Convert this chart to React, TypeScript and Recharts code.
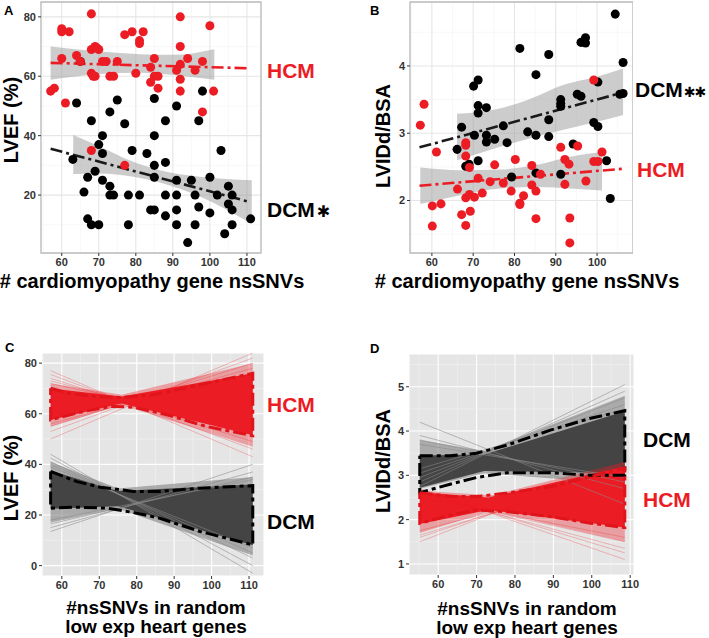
import React from 'react';
import {
  ComposedChart,
  Scatter,
  Line,
  Area,
  XAxis,
  YAxis,
  CartesianGrid,
  ReferenceArea,
} from 'recharts';

const RED = '#ec1c24';
const FONT = '"Liberation Sans", Arial, Helvetica, sans-serif';

// ---------- Panel A: LVEF vs cardiomyopathy nsSNVs ----------
const hcmPointsA: [number, number][] = [
  [57, 55], [58, 56], [60, 76], [60, 75], [62, 75], [60, 66], [61, 51], [64, 67], [65, 65],
  [68, 81], [68, 69], [69, 70], [70, 69], [69.5, 69.5], [68, 61], [68.5, 60], [69, 60],
  [72, 65], [71, 65], [73, 60], [74, 60], [75, 65], [77, 74], [79, 75], [82, 75], [81, 72],
  [81, 71], [80, 61], [84, 63], [84, 58], [85, 66], [85, 60], [86, 60], [86, 56], [68, 35],
  [77, 30], [92, 80], [92, 55], [91, 62], [92, 70], [92, 59], [92, 64], [94, 66], [96, 62],
  [98, 65], [98, 48], [100, 77], [101, 55],
];
const dcmPointsA: [number, number][] = [
  [65, 65], [64, 51], [63, 32], [66, 21], [67, 26], [67, 12], [68, 10], [70, 10], [68, 45],
  [69, 28], [70, 37], [71, 40], [71, 34], [71, 25], [73, 48], [73, 23], [73, 20], [74, 20],
  [75, 52], [77, 44], [78, 10], [78, 20], [79, 35], [81, 20], [83, 34], [84, 15], [85, 15],
  [85, 52.5], [85, 40], [85, 30], [85, 26], [88, 45], [88, 31], [88, 20], [88, 13], [91, 50],
  [91, 25], [91, 20], [91, 15], [91, 10], [94, 4], [95, 25], [96, 20], [96, 10], [97, 45],
  [97, 16], [98, 55], [100, 26], [100, 14], [102, 20], [103, 35], [104, 7], [105, 23],
  [105, 17], [106, 20], [106, 15], [106, 10], [111, 12],
];
// [x, lower, upper]
const hcmRibbonA: [number, number, number][] = [
  [57, 58.8, 70], [70.3, 60.8, 68.3], [81.1, 61.2, 67.4], [90.1, 60.4, 67.2], [101.2, 58.8, 69.1],
];
const dcmRibbonA: [number, number, number][] = [
  [63.1, 27.1, 40.2], [70.3, 27.3, 36.3], [79.3, 26.2, 31.2], [86.5, 24.2, 28.4],
  [97.3, 19.5, 26.2], [111.3, 10.3, 25],
];
const hcmFitA: [number, number][] = [[57, 64.5], [110.5, 62.7]];
const dcmFitA: [number, number][] = [[57, 35.6], [111, 17.6]];
const xTicksA = [60, 70, 80, 90, 100, 110];
const yTicksA = [20, 40, 60, 80];
const xMinorA = [55, 65, 75, 85, 95, 105];
const yMinorA = [10, 30, 50, 70];

// ---------- Panel B: LVIDd/BSA vs cardiomyopathy nsSNVs ----------
const dcmPointsB: [number, number][] = [
  [66.1, 2.76], [67.2, 3.09], [68.2, 2.51], [69, 2.54], [70.1, 3.7], [71.2, 3.79], [71.2, 3.41],
  [71.2, 3.3], [71.2, 2.59], [70.3, 2.97], [73.2, 3.38], [73.2, 2.97], [73.2, 2.87], [75.2, 2.91],
  [77.3, 3.11], [78.2, 2.86], [79.3, 2.35], [81.3, 4.26], [83.2, 3.02], [85.2, 3.87], [85.2, 2.97],
  [85.2, 2.41], [88.3, 4.17], [88.3, 3.2], [88.3, 2.95], [91.2, 3.5], [91.2, 3.44], [91.2, 3.4],
  [91.2, 2.39], [94.2, 2.84], [95.2, 3.58], [96.1, 3.55], [96.1, 4.35], [97.2, 4.42], [97.2, 4.34],
  [99.2, 3.16], [100.2, 3.1], [100.2, 3.76], [102.3, 2.59], [103.2, 2.03], [104.4, 4.77],
  [106.3, 4.05], [105.5, 3.58], [106.3, 3.59],
];
const hcmPointsB: [number, number][] = [
  [57.2, 3.12], [58.1, 3.43], [61.1, 2.72], [60.1, 1.92], [60.1, 1.62], [62.2, 1.95], [66.2, 2.17],
  [67.2, 1.79], [68.2, 2.86], [68.2, 2.82], [68.2, 2.66], [68.2, 2.04], [68.2, 1.63], [69.1, 2.49],
  [69.1, 2.09], [69.3, 1.84], [70.3, 2.05], [71.2, 2.33], [72.2, 2.11], [74.1, 2.28], [75.2, 2.53],
  [77.3, 2.26], [79.2, 2.14], [80.2, 2.61], [81.3, 1.96], [81.3, 1.94], [82.2, 2.07], [84.2, 2.52],
  [84.2, 2.23], [85.2, 2.14], [85.2, 1.73], [86.3, 2.39], [91.2, 2.79], [92.2, 2.61], [92.2, 2.24],
  [93.2, 2.54], [93.4, 1.74], [93.4, 1.37], [95.3, 2.81], [97.3, 2.29], [99.2, 3.79], [99.2, 2.58],
  [100.2, 2.58], [101.2, 2.72],
];
const dcmRibbonB: [number, number, number][] = [
  [66.1, 2.6, 3.29], [75, 2.77, 3.35], [83, 2.91, 3.49], [91.9, 3.05, 3.72], [100, 3.17, 3.84],
  [106.3, 3.27, 3.96],
];
const hcmRibbonB: [number, number, number][] = [
  [57.2, 1.95, 2.49], [66.9, 2.08, 2.45], [76.6, 2.18, 2.46], [85.5, 2.2, 2.53], [93.5, 2.18, 2.65],
  [101.2, 2.15, 2.72],
];
const dcmFitB: [number, number][] = [[57, 2.79], [106, 3.6]];
const hcmFitB: [number, number][] = [[57, 2.22], [106, 2.47]];
const xTicksB = [60, 70, 80, 90, 100];
const yTicksB = [2, 3, 4];
const xMinorB = [55, 65, 75, 85, 95, 105];
const yMinorB = [1.5, 2.5, 3.5, 4.5];

// ---------- Panel C: LVEF, random low-expression heart genes ----------
const spanC: [number, number] = [57, 111];
// [value at left end, value at right end]
const hcmLinesC: [number, number][] = [
  [77, 43], [75.5, 46], [74, 49], [73, 52], [72, 54], [50, 84], [53, 82], [55, 80], [56, 78],
];
const dcmLinesC: [number, number][] = [
  [44, -3], [42.5, 0], [41, 3], [40, 5], [39, 7], [13.5, 40], [15, 37], [16.5, 35], [18, 34],
];
const hcmOuterC: [number, number, number][] = [[57, 55, 72], [76, 63.5, 67.5], [111, 47, 80]];
const hcmCoreC: [number, number, number][] = [[57, 57.5, 70], [76, 64, 66.8], [111, 51.5, 76]];
const dcmOuterC: [number, number, number][] = [[57, 17, 41], [75, 22.5, 30.5], [111, 4, 35]];
const dcmCoreC: [number, number, number][] = [[57, 22.5, 37.5], [75, 23.5, 29.5], [111, 8, 32]];
const hcmUpperC: [number, number][] = [
  [57, 70.1], [61.8, 68.1], [69.3, 66.8], [76, 66.4], [84.4, 67.5], [96.9, 71.4], [111, 76],
];
const hcmLowerC: [number, number][] = [
  [57, 57.6], [65.8, 60.9], [72.9, 62.9], [79.1, 62.6], [88, 59.6], [98.6, 55], [111, 51.3],
];
const dcmUpperC: [number, number][] = [
  [57, 37.2], [64, 33.2], [70.2, 31], [79.1, 29.3], [86.2, 29.3], [96.9, 30.6], [111, 31.6],
];
const dcmLowerC: [number, number][] = [
  [57, 22.7], [63.1, 23.1], [72, 22.7], [79.1, 21], [86.2, 18.7], [96.9, 13.5], [111, 8.2],
];
const xTicksC = [60, 70, 80, 90, 100, 110];
const yTicksC = [0, 20, 40, 60, 80];
const xMinorC = [55, 65, 75, 85, 95, 105];
const yMinorC = [10, 30, 50, 70];

// ---------- Panel D: LVIDd/BSA, random low-expression heart genes ----------
const spanD: [number, number] = [55.2, 108.6];
const dcmLinesD: [number, number][] = [
  [2.75, 5.05], [2.85, 4.9], [2.95, 4.75], [3.05, 4.6], [3.15, 4.5], [4.2, 2.35], [3.9, 2.7],
  [3.8, 2.85], [3.7, 2.95],
];
const hcmLinesD: [number, number][] = [
  [1.5, 3.3], [1.6, 3.15], [1.65, 3.05], [1.75, 2.95], [2.7, 1.1], [2.65, 1.25], [2.6, 1.35],
  [2.55, 1.5], [2.5, 1.6],
];
const dcmOuterD: [number, number, number][] = [[55.2, 2.7, 3.8], [72, 3.05, 3.55], [108.6, 2.8, 4.8]];
const dcmCoreD: [number, number, number][] = [[55.2, 2.72, 3.45], [72, 3.1, 3.47], [108.6, 3.05, 4.45]];
const hcmOuterD: [number, number, number][] = [[55.2, 1.7, 2.65], [74, 2.2, 2.55], [108.6, 1.5, 3.3]];
const hcmCoreD: [number, number, number][] = [[55.2, 1.9, 2.62], [73, 2.22, 2.5], [108.6, 1.82, 3.2]];
const dcmUpperD: [number, number][] = [
  [55.2, 3.44], [63.1, 3.44], [70, 3.5], [77.9, 3.68], [89.2, 4.02], [99.7, 4.29], [108.6, 4.46],
];
const dcmLowerD: [number, number][] = [
  [55.2, 2.61], [63.1, 2.8], [70, 2.95], [77.9, 3.06], [89.2, 3.06], [99.7, 3.0], [108.6, 3.0],
];
const hcmUpperD: [number, number][] = [
  [55.2, 2.61], [63.1, 2.52], [70, 2.52], [77.9, 2.6], [89.2, 2.74], [99.7, 2.97], [108.6, 3.17],
];
const hcmLowerD: [number, number][] = [
  [55.2, 1.92], [63.1, 2.1], [70, 2.22], [77.9, 2.18], [89.2, 2.07], [99.7, 1.92], [108.6, 1.82],
];
const xTicksD = [60, 70, 80, 90, 100, 110];
const yTicksD = [1, 2, 3, 4, 5];
const xMinorD = [55, 65, 75, 85, 95, 105];
const yMinorD = [1.5, 2.5, 3.5, 4.5, 5.5];

// helpers
const pts = (p: [number, number][]) => p.map(([x, y]) => ({ x, y }));
const band = (rows: [number, number, number][]) => rows.map(([x, lo, hi]) => ({ x, r: [lo, hi] }));
const seg = (span: [number, number], [a, b]: [number, number]) => [
  { x: span[0], y: a },
  { x: span[1], y: b },
];
// closed outline: upper curve left->right, lower curve right->left
const ring = (upper: [number, number][], lower: [number, number][]) =>
  pts([...upper, ...lower.slice().reverse(), upper[0]]);

const tick = { fill: '#333333', fontSize: 11, fontWeight: 700, fontFamily: FONT };

// major grid on the ticks, a thinner minor grid between them (both under the data)
const grids = (xMinor: number[], yMinor: number[], major: string, minor: string, bg?: string) => [
  <CartesianGrid key="g1" stroke={major} strokeWidth={1.1} fill={bg} />,
  <CartesianGrid
    key="g2"
    stroke={minor}
    strokeWidth={0.55}
    verticalValues={xMinor}
    horizontalValues={yMinor}
  />,
];

const axes = (
  xd: [number, number],
  yd: [number, number],
  xt: number[],
  yt: number[],
  yw: number,
  xh: number,
) => [
  <XAxis
    key="x"
    type="number"
    dataKey="x"
    domain={xd}
    ticks={xt}
    allowDataOverflow
    interval={0}
    axisLine={false}
    tickLine={{ stroke: '#333' }}
    tickSize={3}
    tick={tick}
    height={xh}
  />,
  <YAxis
    key="y"
    type="number"
    dataKey="y"
    domain={yd}
    ticks={yt}
    allowDataOverflow
    interval={0}
    axisLine={false}
    tickLine={{ stroke: '#333' }}
    tickSize={3}
    tick={tick}
    width={yw}
  />,
];

const ribbon = (rows: [number, number, number][], key: string) => (
  <Area
    key={key}
    data={band(rows)}
    dataKey="r"
    type="monotone"
    fill="#999999"
    fillOpacity={0.5}
    stroke="none"
    isAnimationActive={false}
  />
);

const fit = (p: [number, number][], color: string, key: string) => (
  <Line
    key={key}
    data={pts(p)}
    dataKey="y"
    type="linear"
    stroke={color}
    strokeWidth={2.6}
    strokeDasharray="12 4 3 4"
    dot={false}
    activeDot={false}
    isAnimationActive={false}
  />
);

const thinLines = (span: [number, number], list: [number, number][], color: string, op: number, key: string) =>
  list.map((l, i) => (
    <Line
      key={key + i}
      data={seg(span, l)}
      dataKey="y"
      type="linear"
      stroke={color}
      strokeOpacity={op}
      strokeWidth={0.8}
      dot={false}
      activeDot={false}
      isAnimationActive={false}
    />
  ));

const fillBand = (rows: [number, number, number][], color: string, op: number, key: string) => (
  <Area
    key={key}
    data={band(rows)}
    dataKey="r"
    type="linear"
    fill={color}
    fillOpacity={op}
    stroke="none"
    isAnimationActive={false}
  />
);

const envelope = (upper: [number, number][], lower: [number, number][], color: string, key: string) => (
  <Line
    key={key}
    data={ring(upper, lower)}
    dataKey="y"
    type="linear"
    stroke={color}
    strokeWidth={3}
    strokeDasharray="13 4 4 4"
    dot={false}
    activeDot={false}
    isAnimationActive={false}
  />
);

const PanelA = () => (
  <ComposedChart width={265} height={300} margin={{ top: 2, right: 4, bottom: 0, left: 0 }}>
    {grids(xMinorA, yMinorA, '#e6e6e6', '#f2f2f2')}
    {axes([54.4, 113.8], [0.5, 85], xTicksA, yTicksA, 41, 47)}
    <Scatter data={pts(dcmPointsA)} fill="#000000" isAnimationActive={false} />
    <Scatter data={pts(hcmPointsA)} fill={RED} isAnimationActive={false} />
    {ribbon(hcmRibbonA, 'rh')}
    {ribbon(dcmRibbonA, 'rd')}
    {fit(hcmFitA, RED, 'fh')}
    {fit(dcmFitA, '#1a1a1a', 'fd')}
    <ReferenceArea x1={54.4} x2={113.8} y1={0.5} y2={85} fill="none" stroke="#bdbdbd" strokeWidth={1.3} ifOverflow="visible" />
  </ComposedChart>
);

const PanelB = () => (
  <ComposedChart width={283} height={300} margin={{ top: 2, right: 0, bottom: 0, left: 0 }}>
    {grids(xMinorB, yMinorB, '#e6e6e6', '#f2f2f2')}
    {axes([54.7, 108.7], [1.22, 4.95], xTicksB, yTicksB, 60, 47)}
    <Scatter data={pts(dcmPointsB)} fill="#000000" isAnimationActive={false} />
    <Scatter data={pts(hcmPointsB)} fill={RED} isAnimationActive={false} />
    {ribbon(dcmRibbonB, 'rd')}
    {ribbon(hcmRibbonB, 'rh')}
    {fit(dcmFitB, '#1a1a1a', 'fd')}
    {fit(hcmFitB, RED, 'fh')}
    <ReferenceArea x1={54.7} x2={108.7} y1={1.22} y2={4.95} fill="none" stroke="#bdbdbd" strokeWidth={1.3} ifOverflow="visible" />
  </ComposedChart>
);

const PanelC = () => (
  <ComposedChart width={275} height={260} margin={{ top: 3, right: 11, bottom: 0, left: 0 }}>
    {grids(xMinorC, yMinorC, '#ffffff', '#f4f4f4', '#e5e5e5')}
    {axes([54.7, 114], [-4.1, 84], xTicksC, yTicksC, 42, 34)}
    {thinLines(spanC, hcmLinesC, RED, 0.35, 'lh')}
    {fillBand(hcmOuterC, RED, 0.35, 'oh')}
    {fillBand(hcmCoreC, RED, 1, 'ch')}
    {thinLines(spanC, dcmLinesC, '#8a8a8a', 0.7, 'ld')}
    {fillBand(dcmOuterC, '#7a7a7a', 0.55, 'od')}
    {fillBand(dcmCoreC, '#444444', 1, 'cd')}
    {envelope(hcmUpperC, hcmLowerC, '#e0141b', 'eh')}
    {envelope(dcmUpperC, dcmLowerC, '#000000', 'ed')}
  </ComposedChart>
);

const PanelD = () => (
  <ComposedChart width={300} height={260} margin={{ top: 4, right: 16, bottom: 0, left: 0 }}>
    {grids(xMinorD, yMinorD, '#ffffff', '#f4f4f4', '#e5e5e5')}
    {axes([52.4, 111], [0.75, 5.74], xTicksD, yTicksD, 59, 35)}
    {thinLines(spanD, dcmLinesD, '#8a8a8a', 0.7, 'ld')}
    {fillBand(dcmOuterD, '#7a7a7a', 0.55, 'od')}
    {fillBand(dcmCoreD, '#444444', 1, 'cd')}
    {thinLines(spanD, hcmLinesD, RED, 0.35, 'lh')}
    {fillBand(hcmOuterD, RED, 0.35, 'oh')}
    {fillBand(hcmCoreD, RED, 1, 'ch')}
    {envelope(dcmUpperD, dcmLowerD, '#000000', 'ed')}
    {envelope(hcmUpperD, hcmLowerD, '#e0141b', 'eh')}
  </ComposedChart>
);

const title = { fontFamily: FONT, fontWeight: 700, fontSize: 20, fill: '#000' };
const title2 = { fontFamily: FONT, fontWeight: 700, fontSize: 19, fill: '#000' };
const tag = { fontFamily: FONT, fontWeight: 700, fontSize: 21 };
const letter = { fontFamily: FONT, fontWeight: 700, fontSize: 13, fill: '#000' };
const star = { fontFamily: '"DejaVu Sans", sans-serif', fontSize: 16 };
const starSmall = { fontFamily: '"DejaVu Sans", sans-serif', fontSize: 14, letterSpacing: -1 };

export default function App() {
  return (
    <div style={{ position: 'absolute', left: 0, top: 0, width: 709, height: 638, background: '#fff' }}>
      <div style={{ position: 'absolute', left: 0, top: 0 }}>
        <PanelA />
      </div>
      <div style={{ position: 'absolute', left: 350, top: 0 }}>
        <PanelB />
      </div>
      <div style={{ position: 'absolute', left: 0, top: 350 }}>
        <PanelC />
      </div>
      <div style={{ position: 'absolute', left: 350, top: 350 }}>
        <PanelD />
      </div>
      <svg width={709} height={638} style={{ position: 'absolute', left: 0, top: 0, pointerEvents: 'none' }}>
        <text x={4} y={15} style={letter}>A</text>
        <text x={370} y={15} style={letter}>B</text>
        <text x={5} y={352} style={letter}>C</text>
        <text x={370} y={353} style={letter}>D</text>

        <text transform="translate(18,120) rotate(-90)" textAnchor="middle" style={title}>LVEF (%)</text>
        <text transform="translate(390,136) rotate(-90)" textAnchor="middle" style={title}>LVIDd/BSA</text>
        <text transform="translate(18,478) rotate(-90)" textAnchor="middle" style={title}>LVEF (%)</text>
        <text transform="translate(390,461) rotate(-90)" textAnchor="middle" style={title}>LVIDd/BSA</text>

        <text x={152} y={288} textAnchor="middle" style={title}># cardiomyopathy gene nsSNVs</text>
        <text x={527} y={288} textAnchor="middle" style={title}># cardiomyopathy gene nsSNVs</text>
        <text x={156} y={614} textAnchor="middle" style={title2}>#nsSNVs in random</text>
        <text x={156} y={633} textAnchor="middle" style={title2}>low exp heart genes</text>
        <text x={527} y={615} textAnchor="middle" style={title2}>#nsSNVs in random</text>
        <text x={527} y={634} textAnchor="middle" style={title2}>low exp heart genes</text>

        <text x={267} y={78} style={{ ...tag, fill: RED }}>HCM</text>
        <text x={267} y={217} style={{ ...tag, fill: '#000' }}>
          DCM<tspan dx={2} style={star}>✱</tspan>
        </text>
        <text x={635} y={97} style={{ ...tag, fill: '#000' }}>
          DCM<tspan dx={1} style={starSmall}>✱✱</tspan>
        </text>
        <text x={637} y={177} style={{ ...tag, fill: RED }}>HCM</text>
        <text x={267} y={412} style={{ ...tag, fill: RED }}>HCM</text>
        <text x={267} y={529} style={{ ...tag, fill: '#000' }}>DCM</text>
        <text x={643} y={447} style={{ ...tag, fill: '#000' }}>DCM</text>
        <text x={643} y={507} style={{ ...tag, fill: RED }}>HCM</text>
      </svg>
    </div>
  );
}
